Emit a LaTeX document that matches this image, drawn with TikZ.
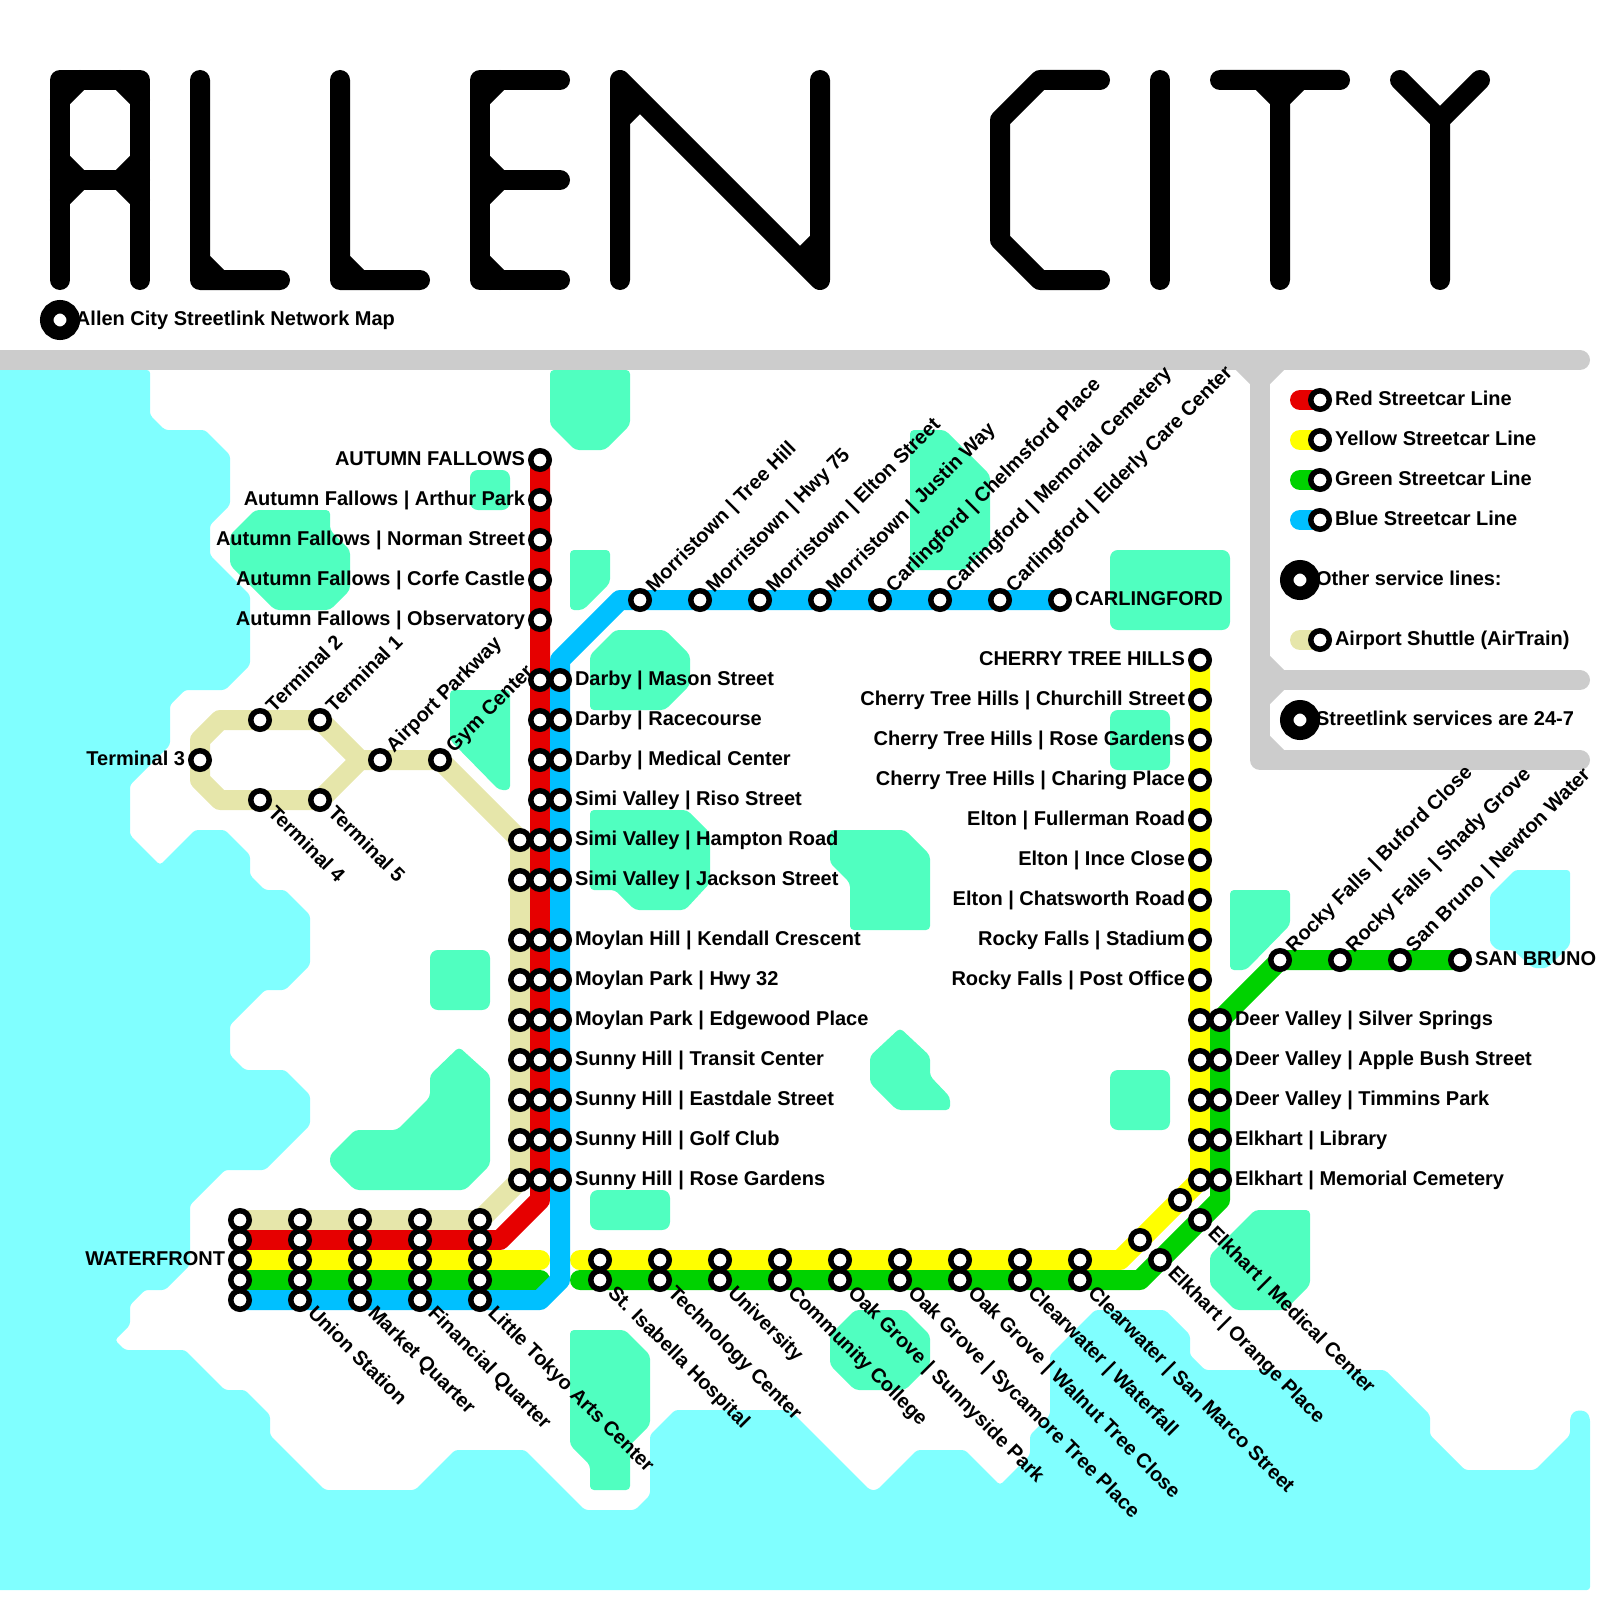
\documentclass[tikz,border=0pt]{standalone}
\usepackage{fontspec}
\setmainfont{Liberation Sans}
\usetikzlibrary{backgrounds}
\definecolor{waterc}{RGB}{128,255,255}
\definecolor{parkc}{RGB}{80,255,192}
\definecolor{framec}{RGB}{204,204,204}
\definecolor{redc}{RGB}{230,0,0}
\definecolor{yelc}{RGB}{255,255,0}
\definecolor{grnc}{RGB}{0,210,0}
\definecolor{bluc}{RGB}{0,192,255}
\definecolor{airc}{RGB}{230,230,170}
\begin{document}
\begin{tikzpicture}[
    x=0.35433pt, y=-0.35433pt,
    stn/.style={circle, draw=black, fill=white, line width=1.95pt, minimum size=6.55pt, inner sep=0pt, outer sep=0pt},
    bigstn/.style={circle, draw=black, fill=white, line width=4.78pt, minimum size=9.39pt, inner sep=0pt, outer sep=0pt},
    txt/.style={font=\fontsize{7.087}{8.5}\selectfont\bfseries, inner sep=0pt, outer sep=0pt},
    lw/.style={txt, anchor=base west},
    le/.style={txt, anchor=base east},
    lup/.style={txt, anchor=base west, rotate=45},
    ldn/.style={txt, anchor=base west, rotate=-45},
    fat/.style={line width=7.087pt, line cap=round, line join=round},
    ttl/.style={fat, draw=black},
    frm/.style={fat, draw=framec},
    water/.style={fill=waterc, rounded corners=1.1pt},
    park/.style={fill=parkc, rounded corners=1.4pt},
    parkbox/.style={fill=parkc, rounded corners=2.8pt},
    redln/.style={fat, draw=redc},
    yelln/.style={fat, draw=yelc},
    grnln/.style={fat, draw=grnc},
    bluln/.style={fat, draw=bluc},
    airln/.style={fat, draw=airc}
]
\useasboundingbox (0,0) rectangle (1600,1600);

% title
\draw[ttl] (60,280) -- (60,80) -- (140,80) -- (140,280) (60,180) -- (140,180);
\draw[ttl] (60,100) -- (80,80) (120,80) -- (140,100) (60,160) -- (80,180) -- (60,200) (140,160) -- (120,180) -- (140,200);
\draw[ttl] (200,80) -- (200,280) -- (280,280) (200,260) -- (220,280);
\draw[ttl] (340,80) -- (340,280) -- (420,280) (340,260) -- (360,280);
\draw[ttl] (560,80) -- (480,80) -- (480,280) -- (560,280) (480,180) -- (560,180);
\draw[ttl] (480,100) -- (500,80) (480,160) -- (500,180) -- (480,200) (480,260) -- (500,280);
\draw[ttl] (620,280) -- (620,80) -- (820,280) -- (820,80) (620,120) -- (640,100) (820,240) -- (800,260);
\draw[ttl] (1100,80) -- (1040,80) -- (1000,120) -- (1000,240) -- (1040,280) -- (1100,280);
\draw[ttl] (1160,80) -- (1160,280);
\draw[ttl] (1220,80) -- (1340,80) (1280,280) -- (1280,80) (1260,80) -- (1280,100) -- (1300,80);
\draw[ttl] (1400,80) -- (1440,120) -- (1480,80) (1440,120) -- (1440,280);
\node[bigstn] (main) at (60,320) {};
\node[lw] (maintxt) at (76,325) {Allen City Streetlink Network Map};

% legend
\node[stn] (kred) at (1320,400) {};
\node[lw] (kredt) at (1335,405) {Red Streetcar Line};
\node[stn] (kyel) at (1320,440) {};
\node[lw] (kyelt) at (1335,445) {Yellow Streetcar Line};
\node[stn] (kgrn) at (1320,480) {};
\node[lw] (kgrnt) at (1335,485) {Green Streetcar Line};
\node[stn] (kblu) at (1320,520) {};
\node[lw] (kblut) at (1335,525) {Blue Streetcar Line};
\node[bigstn] (koth) at (1300,580) {};
\node[lw] (kotht) at (1316,585) {Other service lines:};
\node[stn] (kair) at (1320,640) {};
\node[lw] (kairt) at (1335,645) {Airport Shuttle (AirTrain)};
\node[bigstn] (ksvc) at (1300,720) {};
\node[lw] (ksvct) at (1316,725) {Streetlink services are 24-7};
\coordinate (kr0) at (1300,400);
\coordinate (ky0) at (1300,440);
\coordinate (kg0) at (1300,480);
\coordinate (kb0) at (1300,520);
\coordinate (ka0) at (1300,640);

% red line
\node[stn] (r460) at (540,460) {};
\node[le] (tr460) at (525,465) {AUTUMN FALLOWS};
\node[stn] (r500) at (540,500) {};
\node[le] (tr500) at (525,505) {Autumn Fallows | Arthur Park};
\node[stn] (r540) at (540,540) {};
\node[le] (tr540) at (525,545) {Autumn Fallows | Norman Street};
\node[stn] (r580) at (540,580) {};
\node[le] (tr580) at (525,585) {Autumn Fallows | Corfe Castle};
\node[stn] (r620) at (540,620) {};
\node[le] (tr620) at (525,625) {Autumn Fallows | Observatory};
\node[stn] (r680) at (540,680) {};
\node[stn] (r720) at (540,720) {};
\node[stn] (r760) at (540,760) {};
\node[stn] (r800) at (540,800) {};
\node[stn] (r840) at (540,840) {};
\node[stn] (r880) at (540,880) {};
\node[stn] (r940) at (540,940) {};
\node[stn] (r980) at (540,980) {};
\node[stn] (r1020) at (540,1020) {};
\node[stn] (r1060) at (540,1060) {};
\node[stn] (r1100) at (540,1100) {};
\node[stn] (r1140) at (540,1140) {};
\node[stn] (r1180) at (540,1180) {};
\coordinate (rc1) at (540,1200);
\coordinate (rc2) at (500,1240);

% blue line
\node[stn] (b680) at (560,680) {};
\node[lw] (tb680) at (575,685) {Darby | Mason Street};
\node[stn] (b720) at (560,720) {};
\node[lw] (tb720) at (575,725) {Darby | Racecourse};
\node[stn] (b760) at (560,760) {};
\node[lw] (tb760) at (575,765) {Darby | Medical Center};
\node[stn] (b800) at (560,800) {};
\node[lw] (tb800) at (575,805) {Simi Valley | Riso Street};
\node[stn] (b840) at (560,840) {};
\node[lw] (tb840) at (575,845) {Simi Valley | Hampton Road};
\node[stn] (b880) at (560,880) {};
\node[lw] (tb880) at (575,885) {Simi Valley | Jackson Street};
\node[stn] (b940) at (560,940) {};
\node[lw] (tb940) at (575,945) {Moylan Hill | Kendall Crescent};
\node[stn] (b980) at (560,980) {};
\node[lw] (tb980) at (575,985) {Moylan Park | Hwy 32};
\node[stn] (b1020) at (560,1020) {};
\node[lw] (tb1020) at (575,1025) {Moylan Park | Edgewood Place};
\node[stn] (b1060) at (560,1060) {};
\node[lw] (tb1060) at (575,1065) {Sunny Hill | Transit Center};
\node[stn] (b1100) at (560,1100) {};
\node[lw] (tb1100) at (575,1105) {Sunny Hill | Eastdale Street};
\node[stn] (b1140) at (560,1140) {};
\node[lw] (tb1140) at (575,1145) {Sunny Hill | Golf Club};
\node[stn] (b1180) at (560,1180) {};
\node[lw] (tb1180) at (575,1185) {Sunny Hill | Rose Gardens};
\node[stn] (m640) at (640,600) {};
\node[lup] (tm640) at (654,593) {Morristown | Tree Hill};
\node[stn] (m700) at (700,600) {};
\node[lup] (tm700) at (714,593) {Morristown | Hwy 75};
\node[stn] (m760) at (760,600) {};
\node[lup] (tm760) at (774,593) {Morristown | Elton Street};
\node[stn] (m820) at (820,600) {};
\node[lup] (tm820) at (834,593) {Morristown | Justin Way};
\node[stn] (m880) at (880,600) {};
\node[lup] (tm880) at (894,593) {Carlingford | Chelmsford Place};
\node[stn] (m940) at (940,600) {};
\node[lup] (tm940) at (954,593) {Carlingford | Memorial Cemetery};
\node[stn] (m1000) at (1000,600) {};
\node[lup] (tm1000) at (1014,593) {Carlingford | Elderly Care Center};
\node[stn] (m1060) at (1060,600) {};
\node[lw] (tm1060) at (1075,605) {CARLINGFORD};
\coordinate (bc1) at (540,1300);
\coordinate (bc2) at (560,1280);
\coordinate (bc3) at (560,660);
\coordinate (bc4) at (620,600);

% airport line
\node[stn] (t1) at (320,720) {};
\node[lup] (tt1) at (334,713) {Terminal 1};
\node[stn] (t2) at (260,720) {};
\node[lup] (tt2) at (274,713) {Terminal 2};
\node[stn] (t3) at (200,760) {};
\node[le] (tt3) at (185,765) {Terminal 3};
\node[stn] (t4) at (260,800) {};
\node[ldn] (tt4) at (267,814) {Terminal 4};
\node[stn] (t5) at (320,800) {};
\node[ldn] (tt5) at (327,814) {Terminal 5};
\node[stn] (ap) at (380,760) {};
\node[lup] (tap) at (394,753) {Airport Parkway};
\node[stn] (gc) at (440,760) {};
\node[lup] (tgc) at (454,753) {Gym Center};
\node[stn] (a840) at (520,840) {};
\node[stn] (a880) at (520,880) {};
\node[stn] (a940) at (520,940) {};
\node[stn] (a980) at (520,980) {};
\node[stn] (a1020) at (520,1020) {};
\node[stn] (a1060) at (520,1060) {};
\node[stn] (a1100) at (520,1100) {};
\node[stn] (a1140) at (520,1140) {};
\node[stn] (a1180) at (520,1180) {};
\coordinate (jn) at (360,760);
\coordinate (ac1) at (220,720);
\coordinate (ac2) at (200,740);
\coordinate (ac3) at (200,780);
\coordinate (ac4) at (220,800);

% waterfront rows
\node[stn] (wa240) at (240,1220) {};
\node[stn] (wr240) at (240,1240) {};
\node[stn] (wy240) at (240,1260) {};
\node[stn] (wg240) at (240,1280) {};
\node[stn] (wb240) at (240,1300) {};
\node[le] (tw240) at (225,1265) {WATERFRONT};
\node[stn] (wa300) at (300,1220) {};
\node[stn] (wr300) at (300,1240) {};
\node[stn] (wy300) at (300,1260) {};
\node[stn] (wg300) at (300,1280) {};
\node[stn] (wb300) at (300,1300) {};
\node[ldn] (tw300) at (307,1314) {Union Station};
\node[stn] (wa360) at (360,1220) {};
\node[stn] (wr360) at (360,1240) {};
\node[stn] (wy360) at (360,1260) {};
\node[stn] (wg360) at (360,1280) {};
\node[stn] (wb360) at (360,1300) {};
\node[ldn] (tw360) at (367,1314) {Market Quarter};
\node[stn] (wa420) at (420,1220) {};
\node[stn] (wr420) at (420,1240) {};
\node[stn] (wy420) at (420,1260) {};
\node[stn] (wg420) at (420,1280) {};
\node[stn] (wb420) at (420,1300) {};
\node[ldn] (tw420) at (427,1314) {Financial Quarter};
\node[stn] (wa480) at (480,1220) {};
\node[stn] (wr480) at (480,1240) {};
\node[stn] (wy480) at (480,1260) {};
\node[stn] (wg480) at (480,1280) {};
\node[stn] (wb480) at (480,1300) {};
\node[ldn] (tw480) at (487,1314) {Little Tokyo Arts Center};
\coordinate (ye0) at (540,1260);
\coordinate (ge0) at (540,1280);

% yellow line
\node[stn] (y660) at (1200,660) {};
\node[le] (ty660) at (1185,665) {CHERRY TREE HILLS};
\node[stn] (y700) at (1200,700) {};
\node[le] (ty700) at (1185,705) {Cherry Tree Hills | Churchill Street};
\node[stn] (y740) at (1200,740) {};
\node[le] (ty740) at (1185,745) {Cherry Tree Hills | Rose Gardens};
\node[stn] (y780) at (1200,780) {};
\node[le] (ty780) at (1185,785) {Cherry Tree Hills | Charing Place};
\node[stn] (y820) at (1200,820) {};
\node[le] (ty820) at (1185,825) {Elton | Fullerman Road};
\node[stn] (y860) at (1200,860) {};
\node[le] (ty860) at (1185,865) {Elton | Ince Close};
\node[stn] (y900) at (1200,900) {};
\node[le] (ty900) at (1185,905) {Elton | Chatsworth Road};
\node[stn] (y940) at (1200,940) {};
\node[le] (ty940) at (1185,945) {Rocky Falls | Stadium};
\node[stn] (y980) at (1200,980) {};
\node[le] (ty980) at (1185,985) {Rocky Falls | Post Office};
\node[stn] (y1020) at (1200,1020) {};
\node[stn] (y1060) at (1200,1060) {};
\node[stn] (y1100) at (1200,1100) {};
\node[stn] (y1140) at (1200,1140) {};
\node[stn] (y1180) at (1200,1180) {};
\node[stn] (yd1) at (1180,1200) {};
\node[stn] (yd2) at (1140,1240) {};
\coordinate (ys0) at (580,1260);
\coordinate (yc1) at (1120,1260);

% green line
\node[stn] (g1020) at (1220,1020) {};
\node[lw] (tg1020) at (1235,1025) {Deer Valley | Silver Springs};
\node[stn] (g1060) at (1220,1060) {};
\node[lw] (tg1060) at (1235,1065) {Deer Valley | Apple Bush Street};
\node[stn] (g1100) at (1220,1100) {};
\node[lw] (tg1100) at (1235,1105) {Deer Valley | Timmins Park};
\node[stn] (g1140) at (1220,1140) {};
\node[lw] (tg1140) at (1235,1145) {Elkhart | Library};
\node[stn] (g1180) at (1220,1180) {};
\node[lw] (tg1180) at (1235,1185) {Elkhart | Memorial Cemetery};
\node[stn] (gd1) at (1200,1220) {};
\node[ldn] (tgd1) at (1207,1234) {Elkhart | Medical Center};
\node[stn] (gd2) at (1160,1260) {};
\node[ldn] (tgd2) at (1167,1274) {Elkhart | Orange Place};
\node[stn] (s1280) at (1280,960) {};
\node[lup] (ts1280) at (1294,953) {Rocky Falls | Buford Close};
\node[stn] (s1340) at (1340,960) {};
\node[lup] (ts1340) at (1354,953) {Rocky Falls | Shady Grove};
\node[stn] (s1400) at (1400,960) {};
\node[lup] (ts1400) at (1414,953) {San Bruno | Newton Water};
\node[stn] (s1460) at (1460,960) {};
\node[lw] (ts1460) at (1475,965) {SAN BRUNO};
\coordinate (gs0) at (580,1280);
\coordinate (gc1) at (1140,1280);
\coordinate (gc2) at (1220,1200);

% shared yellow and green stops
\node[stn] (cy600) at (600,1260) {};
\node[stn] (cg600) at (600,1280) {};
\node[ldn] (tc600) at (607,1294) {St. Isabella Hospital};
\node[stn] (cy660) at (660,1260) {};
\node[stn] (cg660) at (660,1280) {};
\node[ldn] (tc660) at (667,1294) {Technology Center};
\node[stn] (cy720) at (720,1260) {};
\node[stn] (cg720) at (720,1280) {};
\node[ldn] (tc720) at (727,1294) {University};
\node[stn] (cy780) at (780,1260) {};
\node[stn] (cg780) at (780,1280) {};
\node[ldn] (tc780) at (787,1294) {Community College};
\node[stn] (cy840) at (840,1260) {};
\node[stn] (cg840) at (840,1280) {};
\node[ldn] (tc840) at (847,1294) {Oak Grove | Sunnyside Park};
\node[stn] (cy900) at (900,1260) {};
\node[stn] (cg900) at (900,1280) {};
\node[ldn] (tc900) at (907,1294) {Oak Grove | Sycamore Tree Place};
\node[stn] (cy960) at (960,1260) {};
\node[stn] (cg960) at (960,1280) {};
\node[ldn] (tc960) at (967,1294) {Oak Grove | Walnut Tree Close};
\node[stn] (cy1020) at (1020,1260) {};
\node[stn] (cg1020) at (1020,1280) {};
\node[ldn] (tc1020) at (1027,1294) {Clearwater | Waterfall};
\node[stn] (cy1080) at (1080,1260) {};
\node[stn] (cg1080) at (1080,1280) {};
\node[ldn] (tc1080) at (1087,1294) {Clearwater | San Marco Street};

\begin{scope}[on background layer]
% water
\fill[water] (-20,370) -- (150,370) -- (150,415) -- (165,430) -- (205,430) -- (230,455) -- (230,505) -- (210,525) -- (210,555) -- (250,595) -- (250,665) -- (225,690) -- (185,690) -- (170,705) -- (170,745) -- (130,785) -- (130,835) -- (160,865) -- (195,830) -- (225,830) -- (250,855) -- (250,875) -- (265,890) -- (285,890) -- (310,915) -- (310,965) -- (285,990) -- (265,990) -- (230,1025) -- (230,1055) -- (245,1070) -- (285,1070) -- (310,1095) -- (310,1125) -- (265,1170) -- (225,1170) -- (190,1205) -- (190,1265) -- (165,1290) -- (145,1290) -- (130,1305) -- (130,1325) -- (115,1340) -- (125,1350) -- (185,1350) -- (225,1390) -- (245,1390) -- (270,1415) -- (270,1435) -- (325,1490) -- (415,1490) -- (455,1450) -- (525,1450) -- (585,1510) -- (635,1510) -- (650,1495) -- (650,1435) -- (675,1410) -- (790,1410) -- (870,1490) -- (877,1490) -- (917,1450) -- (965,1450) -- (1000,1485) -- (1030,1455) -- (1030,1435) -- (1050,1415) -- (1050,1355) -- (1095,1310) -- (1165,1310) -- (1190,1335) -- (1190,1355) -- (1205,1370) -- (1385,1370) -- (1430,1415) -- (1430,1435) -- (1465,1470) -- (1535,1470) -- (1570,1435) -- (1570,1418) -- (1573,1412) -- (1580,1410) -- (1587,1412) -- (1590,1418) -- (1590,1590) -- (-20,1590) -- cycle;
\fill[water] (1490,895) -- (1515,870) -- (1570,870) -- (1570,945) -- (1547,968) -- (1533,968) -- (1513,950) -- (1497,950) -- (1490,943) -- cycle;
% parks
\fill[park] (550,370) -- (630,370) -- (630,425) -- (605,450) -- (575,450) -- (550,425) -- cycle;
\fill[parkbox] (470,470) rectangle (510,510);
\fill[park] (255,510) -- (330,510) -- (330,530) -- (350,550) -- (350,590) -- (330,610) -- (275,610) -- (230,565) -- (230,535) -- cycle;
\fill[park] (570,550) -- (610,550) -- (610,583) -- (583,610) -- (570,610) -- cycle;
\fill[park] (590,710) -- (590,655) -- (615,630) -- (665,630) -- (690,655) -- (690,685) -- (665,710) -- cycle;
\fill[park] (590,810) -- (687,810) -- (710,833) -- (710,883) -- (685,910) -- (635,910) -- (615,890) -- (590,890) -- cycle;
\fill[park] (830,830) -- (905,830) -- (930,855) -- (930,930) -- (850,930) -- (850,883) -- (830,863) -- cycle;
\fill[park] (450,690) -- (510,690) -- (510,790) -- (499,790) -- (450,740) -- cycle;
\fill[parkbox] (430,950) rectangle (490,1010);
\fill[park] (430,1097) -- (430,1075) -- (459,1047) -- (490,1075) -- (490,1165) -- (465,1190) -- (355,1190) -- (330,1165) -- (330,1155) -- (355,1130) -- (397,1130) -- cycle;
\fill[parkbox] (590,1190) rectangle (670,1230);
\fill[park] (570,1330) -- (625,1330) -- (650,1355) -- (650,1425) -- (630,1445) -- (630,1490) -- (590,1490) -- (590,1465) -- (570,1445) -- cycle;
\fill[park] (855,1310) -- (905,1310) -- (930,1335) -- (930,1365) -- (905,1390) -- (855,1390) -- (830,1365) -- (830,1335) -- cycle;
\fill[park] (870,1056) -- (900,1028) -- (930,1056) -- (930,1076) -- (950,1097) -- (950,1110) -- (897,1110) -- (870,1083) -- cycle;
\fill[parkbox] (1110,1070) rectangle (1170,1130);
\fill[parkbox] (1110,710) rectangle (1170,770);
\fill[parkbox] (1110,550) rectangle (1230,630);
\fill[park] (910,430) -- (945,430) -- (990,475) -- (990,545) -- (965,570) -- (910,570) -- cycle;
\fill[park] (1230,890) -- (1290,890) -- (1290,925) -- (1246,970) -- (1230,970) -- cycle;
\fill[park] (1255,1210) -- (1310,1210) -- (1310,1285) -- (1285,1310) -- (1235,1310) -- (1210,1285) -- (1210,1255) -- cycle;
% frame
\draw[frm] (0,360) -- (1580,360) (1260,360) -- (1260,760) -- (1580,760) (1260,680) -- (1580,680);
\draw[frm] (1240,360) -- (1260,380) -- (1280,360) (1260,660) -- (1280,680) -- (1260,700) (1260,740) -- (1280,760);
% lines
\draw[airln] (a840.center) -- (gc.center) -- (ap.center) -- (jn) -- (t1.center) -- (t2.center) -- (ac1) -- (ac2) -- (t3.center) -- (ac3) -- (ac4) -- (t4.center) -- (t5.center) -- (jn);
\draw[airln] (a840.center) -- (a1180.center) -- (wa480.center) -- (wa240.center);
\draw[redln] (r460.center) -- (rc1) -- (rc2) -- (wr240.center);
\draw[yelln] (wy240.center) -- (ye0);
\draw[yelln] (ys0) -- (yc1) -- (y1180.center) -- (y660.center);
\draw[grnln] (wg240.center) -- (ge0);
\draw[grnln] (gs0) -- (gc1) -- (gc2) -- (g1020.center) -- (s1280.center) -- (s1460.center);
\draw[bluln] (wb240.center) -- (bc1) -- (bc2) -- (bc3) -- (bc4) -- (m1060.center);
% legend swatches
\draw[redln] (kr0) -- (kred.center);
\draw[yelln] (ky0) -- (kyel.center);
\draw[grnln] (kg0) -- (kgrn.center);
\draw[bluln] (kb0) -- (kblu.center);
\draw[airln] (ka0) -- (kair.center);
\end{scope}
\end{tikzpicture}
\end{document}
